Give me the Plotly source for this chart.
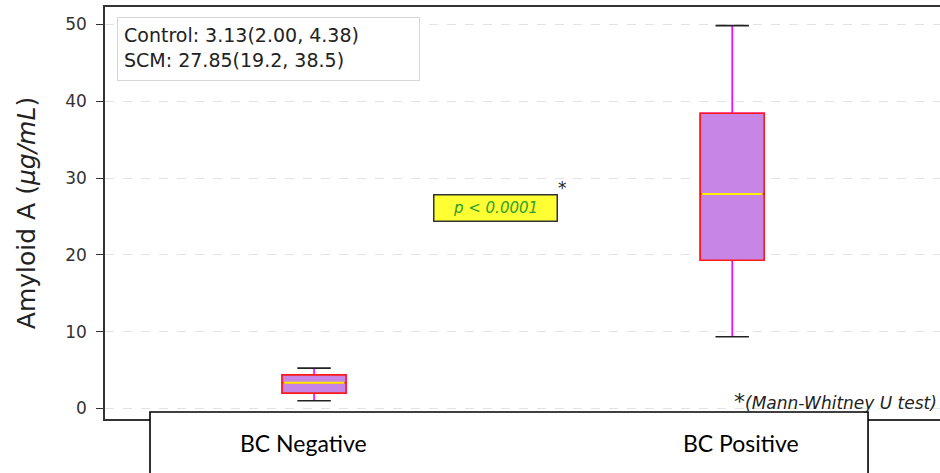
import plotly.graph_objects as go

# ---- data ----
groups = ["BC Negative", "BC Positive"]
positions = [1, 2]
lower_whisker = [1.0, 9.35]
q1 = [2.0, 19.3]
median = [3.35, 27.93]
q3 = [4.38, 38.45]
upper_whisker = [5.25, 49.85]
legend_lines = ["Control: 3.13(2.00, 4.38)", "SCM: 27.85(19.2, 38.5)"]
y_ticks = [0, 10, 20, 30, 40, 50]
p_text = "p < 0.0001"
p_pos = (1.434, 26.1)
test_note = "(Mann-Whitney U test)"

BOX_W = 0.153
CAP_W = 0.08

fig = go.Figure()

# whiskers (magenta)
fig.add_trace(go.Box(
    x=positions, q1=q1, median=median, q3=q3,
    lowerfence=lower_whisker, upperfence=upper_whisker,
    width=BOX_W, whiskerwidth=0,
    line=dict(color="#ff00ff", width=1.6),
    fillcolor="rgba(0,0,0,0)", hoverinfo="skip", showlegend=False,
))
# box body (red edge, purple fill)
fig.add_trace(go.Box(
    x=positions, q1=q1, median=median, q3=q3,
    lowerfence=q1, upperfence=q3,
    width=BOX_W, whiskerwidth=0,
    line=dict(color="#ff1a1a", width=1.6),
    fillcolor="#c785e6", hoverinfo="skip", showlegend=False,
))

# medians (yellow)
mx, my = [], []
for p, m in zip(positions, median):
    mx += [p - BOX_W / 2 + 0.004, p + BOX_W / 2 - 0.004, None]
    my += [m, m, None]
fig.add_trace(go.Scatter(x=mx, y=my, mode="lines",
                         line=dict(color="#ffee00", width=2),
                         hoverinfo="skip", showlegend=False))

# caps (black)
cx, cy = [], []
for p, lo, hi in zip(positions, lower_whisker, upper_whisker):
    cx += [p - CAP_W / 2, p + CAP_W / 2, None, p - CAP_W / 2, p + CAP_W / 2, None]
    cy += [lo, lo, None, hi, hi, None]
fig.add_trace(go.Scatter(x=cx, y=cy, mode="lines",
                         line=dict(color="#222222", width=1.6),
                         hoverinfo="skip", showlegend=False))

annotations = [
    # legend-like box
    dict(xref="paper", yref="paper", x=0.0144, y=0.976,
         xanchor="left", yanchor="top", align="left", valign="top",
         text="<br>".join(legend_lines), showarrow=False,
         width=289, height=50, borderpad=6,
         bgcolor="white", bordercolor="#d6d6d6", borderwidth=1,
         font=dict(family="DejaVu Sans", size=19, color="#222222")),
    # p-value box
    dict(x=p_pos[0], y=p_pos[1], xref="x", yref="y", text="<i>" + p_text + "</i>",
         showarrow=False, width=118, height=21, borderpad=2,
         bgcolor="#ffff33", bordercolor="#333333", borderwidth=1.5,
         font=dict(family="DejaVu Sans", size=15, color="#2ca02c")),
    dict(x=p_pos[0], y=p_pos[1], xref="x", yref="y", text="*",
         showarrow=False, xshift=67, yshift=20,
         font=dict(family="DejaVu Sans", size=17, color="#222222")),
    # test note
    dict(xref="paper", yref="y", x=0.999, y=0.95, xanchor="right", yanchor="middle",
         text="<span style='font-size:22px'>*</span><i>" + test_note + "</i>",
         showarrow=False,
         font=dict(family="DejaVu Sans", size=17, color="#222222")),
]

# group labels inside the lower box
for p, g, sh in zip(positions, groups, [-11, 9]):
    annotations.append(dict(
        x=p, xref="x", yref="paper", y=-0.058, yanchor="middle",
        xshift=sh, text=g, showarrow=False,
        font=dict(family="Lato", size=23, color="black")))

fig.update_layout(
    width=940, height=473,
    margin=dict(l=105, r=0, t=7, b=54),
    paper_bgcolor="white", plot_bgcolor="white",
    boxmode="overlay",
    showlegend=False,
    xaxis=dict(range=[0.5, 2.497], showticklabels=False, ticks="",
               showgrid=False, zeroline=False,
               showline=True, linecolor="#333333", linewidth=1.6, mirror=True),
    yaxis=dict(range=[-1.37, 52.28], tickvals=y_ticks, ticks="outside",
               ticklen=7, tickcolor="#333333", tickwidth=1.2,
               ticklabelstandoff=6,
               showgrid=True, gridcolor="#e3e3e3", griddash="dash", gridwidth=1,
               zeroline=False, showline=True, linecolor="#333333", linewidth=1.6,
               tickfont=dict(family="DejaVu Sans", size=17, color="#333333"),
               title=dict(text="Amyloid A (<i>μg/mL</i>)", standoff=22,
                          font=dict(family="DejaVu Sans", size=25, color="#222222"))),
    shapes=[dict(type="rect", xref="paper", yref="paper",
                 x0=0.0539, x1=0.9138, y0=-0.15, y1=0.017,
                 line=dict(color="black", width=1.6), fillcolor="white",
                 layer="above")],
    annotations=annotations,
)

fig.write_html(
    "out.html",
    config={"displayModeBar": False},
    post_script="document.body.style.margin='0';document.body.style.overflow='hidden';",
)
